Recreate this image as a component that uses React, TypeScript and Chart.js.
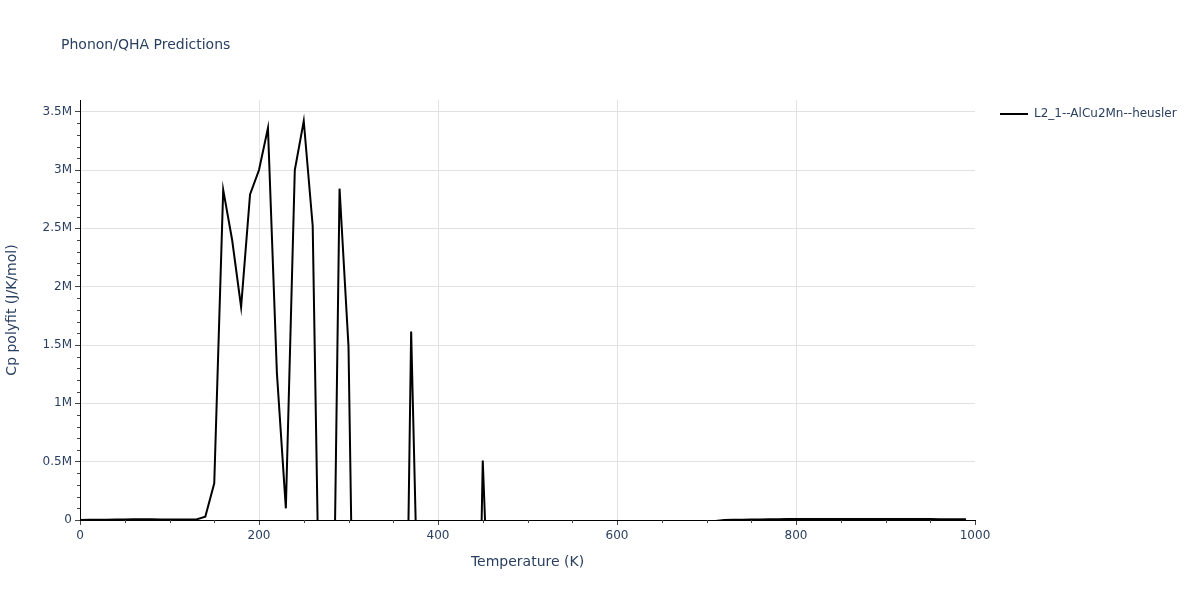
import React, { useEffect, useRef } from 'react';
import { Chart, registerables } from 'chart.js';

Chart.register(...registerables);

const chartTitle = 'Phonon/QHA Predictions';
const seriesLabel = 'L2_1--AlCu2Mn--heusler';
const xAxisTitle = 'Temperature (K)';
const yAxisTitle = 'Cp polyfit (J/K/mol)';

const temperatures = [
  0, 10, 20, 30, 40, 50, 60, 70, 80, 90,
  100, 110, 120, 130, 140, 150, 160, 170, 180, 190,
  200, 210, 220, 230, 240, 250, 260, 270, 280, 290,
  300, 310, 320, 330, 340, 350, 360, 370, 380, 390,
  400, 410, 420, 430, 440, 450, 460, 470, 480, 490,
  500, 510, 520, 530, 540, 550, 560, 570, 580, 590,
  600, 610, 620, 630, 640, 650, 660, 670, 680, 690,
  700, 710, 720, 730, 740, 750, 760, 770, 780, 790,
  800, 810, 820, 830, 840, 850, 860, 870, 880, 890,
  900, 910, 920, 930, 940, 950, 960, 970, 980, 990,
];

const cpValues = [
  1000, 2000, 3000, 3000, 4000, 5000, 6000, 6000, 6000, 5000,
  5000, 4000, 4000, 5000, 28000, 315000, 2830000, 2400000, 1825000, 2790000,
  3000000, 3360000, 1260000, 100000, 3000000, 3420000, 2520000, -2100000, -2850000, 2840000,
  1490000, -3500000, -4000000, -3800000, -3000000, -3500000, -3800000, 1615000, -1600000, -2500000,
  -2800000, -2600000, -3000000, -3400000, -3700000, 510000, -1500000, -2000000, -2200000, -2100000,
  -2000000, -1800000, -1600000, -1400000, -1200000, -1000000, -850000, -700000, -560000, -440000,
  -340000, -250000, -180000, -120000, -90000, -70000, -55000, -45000, -35000, -25000,
  -18000, -8000, 1000, 2000, 3000, 4000, 5000, 6000, 7000, 8000,
  8500, 9000, 9000, 9000, 9500, 9500, 9500, 9500, 9000, 9000,
  9000, 8500, 8500, 8000, 8000, 8000, 7500, 7500, 7000, 7000,
];

const xMajorTicks = [0, 200, 400, 600, 800, 1000];
const xMinorTicks = [50, 100, 150, 250, 300, 350, 450, 500, 550, 650, 700, 750, 850, 900, 950];
const yMajorTicks = [0, 500000, 1000000, 1500000, 2000000, 2500000, 3000000, 3500000];
const yMinorTicks = [
  100000, 200000, 300000, 400000, 600000, 700000, 800000, 900000,
  1100000, 1200000, 1300000, 1400000, 1600000, 1700000, 1800000, 1900000,
  2100000, 2200000, 2300000, 2400000, 2600000, 2700000, 2800000, 2900000,
  3100000, 3200000, 3300000, 3400000,
];

const TEXT = '#2a3f5f';
const GRID = '#e2e2e2';
const FONT = '"DejaVu Sans", Verdana, Arial, sans-serif';

const fmtY = (v: number) => (v === 0 ? '0' : `${v / 1000000}M`);

export default function App() {
  const ref = useRef<HTMLCanvasElement | null>(null);

  useEffect(() => {
    document.body.style.margin = '0';
    const canvas = ref.current;
    if (!canvas) return;

    const decorations = {
      id: 'decorations',
      afterDraw(chart: any) {
        const ctx = chart.ctx as CanvasRenderingContext2D;
        const xs = chart.scales.x;
        const ys = chart.scales.y;
        const area = chart.chartArea;
        ctx.save();
        ctx.strokeStyle = '#444';
        ctx.lineWidth = 1;
        ctx.beginPath();
        for (const v of xMinorTicks) {
          const px = Math.round(xs.getPixelForValue(v)) + 0.5;
          ctx.moveTo(px, area.bottom);
          ctx.lineTo(px, area.bottom + 3);
        }
        for (const v of yMinorTicks) {
          const py = Math.round(ys.getPixelForValue(v)) + 0.5;
          ctx.moveTo(area.left, py);
          ctx.lineTo(area.left - 3, py);
        }
        ctx.stroke();

        ctx.fillStyle = TEXT;
        ctx.font = `14px ${FONT}`;
        ctx.textAlign = 'left';
        ctx.textBaseline = 'middle';
        ctx.fillText(chartTitle, 61, 45);

        ctx.strokeStyle = '#000';
        ctx.lineWidth = 2;
        ctx.beginPath();
        ctx.moveTo(1000, 114);
        ctx.lineTo(1028, 114);
        ctx.stroke();
        ctx.font = `12px ${FONT}`;
        ctx.fillText(seriesLabel, 1034, 114);
        ctx.restore();
      },
    };

    const chart = new Chart(canvas, {
      type: 'line',
      data: {
        labels: temperatures,
        datasets: [
          {
            label: seriesLabel,
            data: temperatures.map((t, i) => ({ x: t, y: cpValues[i] })),
            borderColor: '#000000',
            backgroundColor: '#000000',
            borderWidth: 2,
            pointRadius: 0,
            tension: 0,
            fill: false,
          },
        ],
      },
      options: {
        responsive: false,
        animation: false,
        layout: { padding: { top: 100, right: 225, bottom: 25, left: 0 } },
        plugins: {
          legend: { display: false },
          title: { display: false },
          tooltip: { enabled: false },
        },
        scales: {
          x: {
            type: 'linear',
            min: 0,
            max: 1000,
            afterBuildTicks: (s: any) => {
              s.ticks = xMajorTicks.map((v) => ({ value: v }));
            },
            afterFit: (s: any) => {
              s.height = 55;
            },
            ticks: {
              color: TEXT,
              font: { family: FONT, size: 12 },
              padding: 4,
              maxRotation: 0,
              autoSkip: false,
              callback: (v: any) => String(v),
            },
            grid: {
              color: (c: any) => (c.tick && (c.tick.value === 0 || c.tick.value === 1000) ? 'rgba(0,0,0,0)' : GRID),
              tickColor: '#444',
              tickLength: 5,
              drawTicks: true,
            },
            border: { display: true, color: '#000', width: 1 },
            title: {
              display: true,
              text: xAxisTitle,
              color: TEXT,
              font: { family: FONT, size: 14 },
            },
          },
          y: {
            type: 'linear',
            min: 0,
            max: 3600000,
            afterBuildTicks: (s: any) => {
              s.ticks = yMajorTicks.map((v) => ({ value: v }));
            },
            afterFit: (s: any) => {
              s.width = 80;
            },
            ticks: {
              color: TEXT,
              font: { family: FONT, size: 12 },
              padding: 3,
              autoSkip: false,
              callback: (v: any) => fmtY(Number(v)),
            },
            grid: {
              color: (c: any) => (c.tick && c.tick.value === 0 ? 'rgba(0,0,0,0)' : GRID),
              tickColor: '#444',
              tickLength: 5,
              drawTicks: true,
            },
            border: { display: true, color: '#000', width: 1 },
            title: {
              display: true,
              text: yAxisTitle,
              color: TEXT,
              font: { family: FONT, size: 14 },
            },
          },
        },
      },
      plugins: [decorations],
    } as any);

    return () => chart.destroy();
  }, []);

  return (
    <div style={{ width: 1200, height: 600, position: 'relative', background: '#fff' }}>
      <canvas ref={ref} width={1200} height={600} />
    </div>
  );
}
